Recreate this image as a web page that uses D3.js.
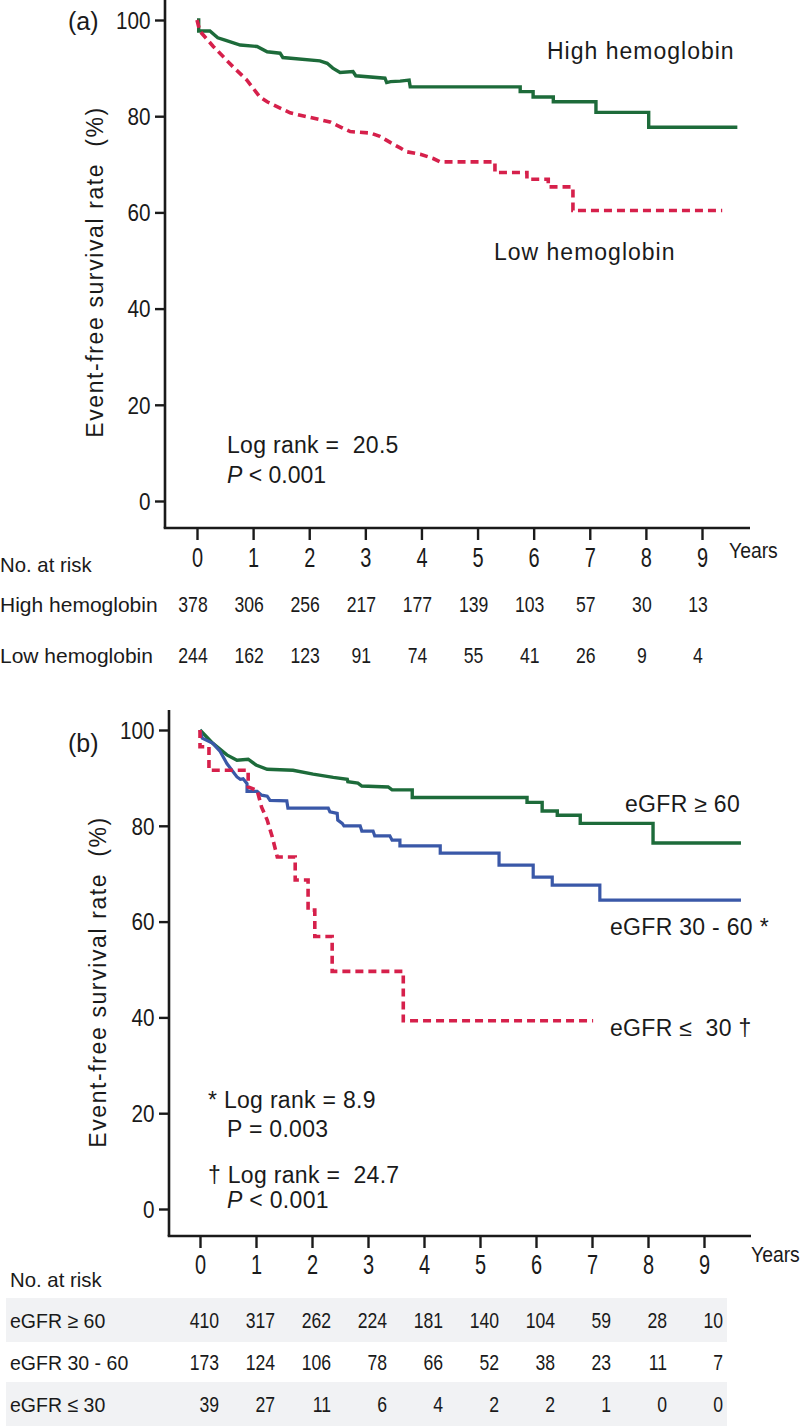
<!DOCTYPE html>
<html><head><meta charset="utf-8">
<script src="https://cdn.jsdelivr.net/npm/d3@7/dist/d3.min.js"></script>
<style>
html,body{margin:0;padding:0;background:#fff;}
svg{display:block;}
text{fill:#1a1a1a;}
</style></head>
<body>
<svg id="chart" width="800" height="1428"></svg>
<script>
// ---------------- DATA ----------------
const xTicks = [0,1,2,3,4,5,6,7,8,9];
const yTicks = [0,20,40,60,80,100];

// Panel (a): polyline vertices [years, survival %]
const highHb = [[0,100],[0.03,100],[0.03,97.7],[0.23,97.7],[0.37,96.3],[0.5,95.8],[0.77,94.8],[1.07,94.5],[1.25,93.4],[1.48,93.1],[1.53,92.2],[2.19,91.5],[2.32,91],[2.42,90],[2.55,89.1],[2.78,89.3],[2.83,88.4],[3.35,87.9],[3.38,87.0],[3.45,87.2],[3.62,87.3],[3.78,87.5],[3.8,86.1],[5.76,86.1],[5.76,85.1],[5.99,85.1],[5.99,84],[6.35,84],[6.35,83],[7.11,83],[7.11,80.8],[8.05,80.8],[8.05,77.7],[9.63,77.7]];
const lowHb = [[0,100],[0.05,97.7],[0.29,94.5],[0.64,90.3],[0.89,87.5],[1.12,84],[1.25,83],[1.66,80.7],[1.84,80.2],[2.37,78.8],[2.55,77.8],[2.73,76.8],[3.09,76.5],[3.26,75.8],[3.45,74.5],[3.62,73.4],[3.74,72.6],[3.98,72.1],[4.21,71.2],[4.33,70.5],[5.31,70.5],[5.31,68.3],[5.88,68.3],[5.88,66.9],[6.26,66.9],[6.26,65.3],[6.7,65.3],[6.7,60.4],[9.36,60.4]];

// Panel (b)
const egfrHigh = [[0,100],[0.23,97.2],[0.48,94.8],[0.66,93.7],[0.86,93.9],[1.0,92.7],[1.2,91.8],[1.66,91.6],[2.02,90.8],[2.38,90.1],[2.63,89.7],[2.64,89.2],[2.82,88.9],[2.89,88.3],[3.36,88.1],[3.43,87.5],[3.79,87.5],[3.79,85.9],[5.84,85.9],[5.84,84.9],[6.11,84.9],[6.11,83.1],[6.38,83.1],[6.38,82.2],[6.79,82.2],[6.79,80.5],[8.09,80.5],[8.09,76.4],[9.66,76.4]];
const egfrMid = [[0,100],[0.04,98.3],[0.23,97.2],[0.36,95.5],[0.48,93],[0.66,90.2],[0.72,89.7],[0.77,89.8],[0.84,88.8],[0.84,87.2],[1.02,87.2],[1.1,86.4],[1.2,86.2],[1.25,85.3],[1.55,85.2],[1.57,83.7],[2.29,83.7],[2.32,82.9],[2.45,82.6],[2.46,81.2],[2.54,80.5],[2.57,80],[2.86,80],[2.89,78.9],[3.09,78.9],[3.12,77.9],[3.39,77.9],[3.43,77],[3.57,77],[3.57,75.8],[4.29,75.8],[4.29,74.3],[5.34,74.3],[5.34,71.8],[5.95,71.8],[5.95,69.3],[6.29,69.3],[6.29,67.6],[7.14,67.6],[7.14,64.5],[9.66,64.5]];
const egfrLow = [[0,100],[0,96.5],[0.16,96.5],[0.16,91.6],[0.86,91.6],[0.86,88.1],[1.02,87.4],[1.1,83.9],[1.2,81.2],[1.29,77.7],[1.38,73.5],[1.7,73.5],[1.7,68.7],[1.93,68.7],[1.93,62.4],[2.05,62.4],[2.05,56.9],[2.36,56.9],[2.36,49.6],[3.63,49.6],[3.63,39.3],[7.02,39.3]];

// Numbers at risk
const riskLabelsA = ["High hemoglobin","Low hemoglobin"];
const riskHighHb = [378,306,256,217,177,139,103,57,30,13];
const riskLowHb  = [244,162,123,91,74,55,41,26,9,4];
const riskLabelsB = ["eGFR \u2265 60","eGFR 30 - 60","eGFR \u2264 30"];
const riskEgfrHigh = [410,317,262,224,181,140,104,59,28,10];
const riskEgfrMid  = [173,124,106,78,66,52,38,23,11,7];
const riskEgfrLow  = [39,27,11,6,4,2,2,1,0,0];

// ---------------- DRAW ----------------
const svg = d3.select("#chart");
const SANS = "'Liberation Sans', Arial, Helvetica, sans-serif";
const GREEN = "#1d6b3a", RED = "#d6204b", BLUE = "#3a58a8", AXIS = "#1a1a1a";

// text drawn with a horizontal condensing factor
function ctext(parent, x, y, str, size, sx, anchor){
  return parent.append("text")
    .attr("transform",`translate(${x},${y}) scale(${sx},1)`)
    .attr("font-family",SANS).attr("font-size",size)
    .attr("text-anchor",anchor||"start").style("white-space","pre").text(str);
}

function panel(cfg){
  const g = svg.append("g");
  const x = d3.scaleLinear().domain([0,9]).range([cfg.x0, cfg.x9]);
  const y = d3.scaleLinear().domain([0,100]).range([cfg.y0, cfg.y100]);

  // axis lines
  g.append("line").attr("x1",cfg.ax).attr("x2",cfg.ax).attr("y1",cfg.axTop).attr("y2",cfg.axBottom)
    .attr("stroke",AXIS).attr("stroke-width",2.6);
  g.append("line").attr("x1",cfg.ax-1.3).attr("x2",cfg.axRight).attr("y1",cfg.axBottom).attr("y2",cfg.axBottom)
    .attr("stroke",AXIS).attr("stroke-width",2.6);

  // y axis ticks
  const ya = g.append("g").attr("transform",`translate(${cfg.ax},0)`)
    .call(d3.axisLeft(y).tickValues(yTicks).tickSize(10).tickPadding(6).tickFormat(d3.format("d")));
  ya.select(".domain").remove();
  ya.selectAll(".tick line").attr("stroke",AXIS).attr("stroke-width",2.4);
  ya.selectAll(".tick text").attr("font-family",SANS).attr("font-size",23).attr("fill",AXIS)
    .attr("dy","0.36em").attr("transform","scale(0.9,1)");

  // x axis ticks
  const xa = g.append("g").attr("transform",`translate(0,${cfg.axBottom})`)
    .call(d3.axisBottom(x).tickValues(xTicks).tickSize(12).tickPadding(8).tickFormat(d3.format("d")));
  xa.select(".domain").remove();
  xa.selectAll(".tick line").attr("stroke",AXIS).attr("stroke-width",2.4);
  xa.selectAll(".tick text").attr("font-family",SANS).attr("font-size",27).attr("fill",AXIS)
    .attr("y",cfg.xLabBase-cfg.axBottom).attr("dy",0).attr("transform","scale(0.74,1)");

  ctext(g, cfg.yearsX, cfg.yearsBase, "Years", 22, 0.88);

  // y title
  g.append("text").attr("transform",`translate(${cfg.titleX},${cfg.titleY}) rotate(-90)`)
    .attr("text-anchor","middle").attr("font-family",SANS).attr("font-size",23)
    .attr("letter-spacing",1.6).style("white-space","pre").text("Event-free survival rate  (%)");

  // panel letter
  g.append("text").attr("x",68).attr("y",cfg.letterBase).attr("font-family",SANS).attr("font-size",25)
    .text(cfg.letter);

  // curves
  const line = d3.line().x(d=>x(d[0])).y(d=>y(d[1])).curve(d3.curveLinear);
  cfg.series.forEach(s=>{
    g.append("path").datum(s.data).attr("d",line).attr("fill","none")
      .attr("stroke",s.color).attr("stroke-width",s.width)
      .attr("stroke-dasharray",s.dash||null).attr("stroke-linejoin","miter");
  });
  return {g,x,y};
}

// Panel (a)
const A = panel({
  letter:"(a)", letterBase:30,
  x0:197, x9:702, y0:501, y100:20,
  ax:165, axTop:0, axBottom:528, axRight:750,
  xLabBase:567, yearsX:729, yearsBase:558,
  titleX:103, titleY:272,
  series:[
    {data:highHb, color:GREEN, width:3.4},
    {data:lowHb, color:RED, width:3.6, dash:"8,5"}
  ]
});
const ta = A.g.append("g").attr("font-family",SANS).attr("font-size",23).attr("letter-spacing",1);
ta.append("text").attr("x",547).attr("y",59).text("High hemoglobin");
ta.append("text").attr("x",494).attr("y",260).text("Low hemoglobin");
ta.append("text").attr("x",227).attr("y",453).attr("letter-spacing",0.3).style("white-space","pre").text("Log rank =  20.5");
const pa = ta.append("text").attr("x",227).attr("y",483).attr("letter-spacing",0);
pa.append("tspan").attr("font-style","italic").text("P");
pa.append("tspan").text(" < 0.001");

// Risk table (a)
const tblA = A.g.append("g");
ctext(tblA, 0, 572, "No. at risk", 21, 0.97);
[riskHighHb, riskLowHb].forEach((row,i)=>{
  const yy = [612,663][i];
  ctext(tblA, 0, yy, riskLabelsA[i], 21, 1.0);
  row.forEach((d,j)=> ctext(tblA, A.x(xTicks[j])-4, yy, String(d), 22, 0.8, "middle"));
});

// Panel (b)
const B = panel({
  letter:"(b)", letterBase:752,
  x0:200, x9:704, y0:1209, y100:730,
  ax:169, axTop:710, axBottom:1236, axRight:751,
  xLabBase:1274, yearsX:751, yearsBase:1262,
  titleX:106, titleY:982,
  series:[
    {data:egfrHigh, color:GREEN, width:3.4},
    {data:egfrMid, color:BLUE, width:3.2},
    {data:egfrLow, color:RED, width:3.6, dash:"8,5"}
  ]
});
const tb = B.g.append("g").attr("font-family",SANS).attr("font-size",23).attr("letter-spacing",0.3);
tb.append("text").attr("x",625).attr("y",812).text("eGFR \u2265 60");
tb.append("text").attr("x",610).attr("y",935).text("eGFR 30 - 60 *");
tb.append("text").attr("x",610).attr("y",1036).style("white-space","pre").text("eGFR \u2264  30 \u2020");
tb.append("text").attr("x",208).attr("y",1108).text("* Log rank = 8.9");
tb.append("text").attr("x",227).attr("y",1137).text("P = 0.003");
tb.append("text").attr("x",208).attr("y",1183).style("white-space","pre").text("\u2020 Log rank =  24.7");
const pb = tb.append("text").attr("x",227).attr("y",1208);
pb.append("tspan").attr("font-style","italic").text("P");
pb.append("tspan").text(" < 0.001");

// Risk table (b)
const tblB = B.g.append("g");
const rowBaseB = [1328,1370,1412];
[0,2].forEach(i=>{
  tblB.append("rect").attr("x",6).attr("width",721).attr("y",rowBaseB[i]-30).attr("height",44).attr("fill","#f1f2f4");
});
ctext(tblB, 10, 1287, "No. at risk", 21, 0.97);
[riskEgfrHigh, riskEgfrMid, riskEgfrLow].forEach((row,i)=>{
  const yy = rowBaseB[i];
  ctext(tblB, 10, yy, riskLabelsB[i], 21, 0.93);
  row.forEach((d,j)=> ctext(tblB, B.x(xTicks[j])+19, yy, String(d), 22, 0.8, "end"));
});
</script>
</body></html>
